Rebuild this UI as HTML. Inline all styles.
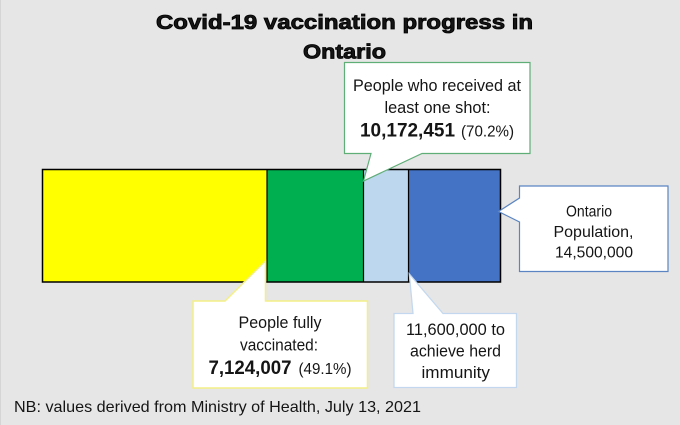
<!DOCTYPE html>
<html>
<head>
<meta charset="utf-8">
<style>
  html, body { margin: 0; padding: 0; background: #e7e6e6; }
  svg { display: block; }
  .t { font-family: "Liberation Sans", Arial, sans-serif; fill: #151515; }
</style>
</head>
<body>
<svg width="680" height="425" viewBox="0 0 680 425" xmlns="http://www.w3.org/2000/svg">
  <rect x="0" y="0" width="680" height="425" fill="#e7e6e6"/>
  <line x1="0.5" y1="0" x2="0.5" y2="425" stroke="#d6d5d5" stroke-width="1"/>

  <!-- Title -->
  <text class="t" x="156" y="29" font-size="20" font-weight="bold" fill="#000" stroke="#000" stroke-width="0.8" textLength="377" lengthAdjust="spacingAndGlyphs">Covid-19 vaccination progress in</text>
  <text class="t" x="303" y="58.5" font-size="20" font-weight="bold" fill="#000" stroke="#000" stroke-width="0.8" textLength="83" lengthAdjust="spacingAndGlyphs">Ontario</text>

  <!-- Bar -->
  <rect x="42.5" y="169.5" width="224.5" height="112.5" fill="#ffff00"/>
  <rect x="267" y="169.5" width="96.5" height="112.5" fill="#00b050"/>
  <rect x="363.5" y="169.5" width="45" height="112.5" fill="#bdd7ee"/>
  <rect x="408.5" y="169.5" width="92" height="112.5" fill="#4472c4"/>
  <rect x="42.5" y="169.5" width="458" height="112.5" fill="none" stroke="#000" stroke-width="1.5"/>
  <line x1="267" y1="169.5" x2="267" y2="282" stroke="#000" stroke-width="1.2"/>
  <line x1="363.5" y1="169.5" x2="363.5" y2="282" stroke="#000" stroke-width="1.2"/>
  <line x1="408.5" y1="169.5" x2="408.5" y2="282" stroke="#000" stroke-width="1.2"/>

  <!-- Green callout -->
  <path d="M344.5,62.5 H530 V153.5 H422 L363.5,181 L371,153.5 H344.5 Z" fill="#ffffff" stroke="#5fae78" stroke-width="1.2"/>
  <text class="t" x="353" y="91" font-size="16.5" textLength="168" lengthAdjust="spacingAndGlyphs">People who received at</text>
  <text class="t" x="384.5" y="113" font-size="16.5" textLength="106" lengthAdjust="spacingAndGlyphs">least one shot:</text>
  <text class="t" x="360" y="136.5" font-size="19" font-weight="bold" fill="#0d0d0d" textLength="95" lengthAdjust="spacingAndGlyphs">10,172,451</text>
  <text class="t" x="461" y="136.5" font-size="16" textLength="53" lengthAdjust="spacingAndGlyphs">(70.2%)</text>

  <!-- Ontario callout -->
  <path d="M519.5,186 H668 V271.5 H519.5 V222 L498.5,211.5 L519.5,198 Z" fill="#ffffff" stroke="#5a85c2" stroke-width="1.2"/>
  <text class="t" x="566" y="216.5" font-size="15.5" textLength="46" lengthAdjust="spacingAndGlyphs">Ontario</text>
  <text class="t" x="553.5" y="237" font-size="15.5" textLength="80" lengthAdjust="spacingAndGlyphs">Population,</text>
  <text class="t" x="555" y="257.5" font-size="15.5" textLength="78" lengthAdjust="spacingAndGlyphs">14,500,000</text>

  <!-- Yellow callout -->
  <path d="M193,301 H225 L265.5,261 L265.5,301 H367.5 V388 H193 Z" fill="#ffffff" stroke="#f3ef86" stroke-width="1.5"/>
  <text class="t" x="238.5" y="328" font-size="16.5" textLength="83" lengthAdjust="spacingAndGlyphs">People fully</text>
  <text class="t" x="240" y="350.5" font-size="16.5" textLength="78" lengthAdjust="spacingAndGlyphs">vaccinated:</text>
  <text class="t" x="208.5" y="374" font-size="19" font-weight="bold" fill="#0d0d0d" textLength="83" lengthAdjust="spacingAndGlyphs">7,124,007</text>
  <text class="t" x="298.5" y="374" font-size="16" textLength="53" lengthAdjust="spacingAndGlyphs">(49.1%)</text>

  <!-- Light blue callout -->
  <path d="M394,313.5 H413 L409.3,274 L443,313.5 H516.5 V387.5 H394 Z" fill="#ffffff" stroke="#c3d8ee" stroke-width="1.3"/>
  <text class="t" x="406" y="335" font-size="16.5" textLength="99" lengthAdjust="spacingAndGlyphs">11,600,000 to</text>
  <text class="t" x="410" y="356.5" font-size="16.5" textLength="91" lengthAdjust="spacingAndGlyphs">achieve herd</text>
  <text class="t" x="421.5" y="378" font-size="16.5" textLength="68.5" lengthAdjust="spacingAndGlyphs">immunity</text>

  <!-- Footnote -->
  <text class="t" x="14" y="412" font-size="16" textLength="407" lengthAdjust="spacingAndGlyphs">NB: values derived from Ministry of Health, July 13, 2021</text>
</svg>
</body>
</html>
